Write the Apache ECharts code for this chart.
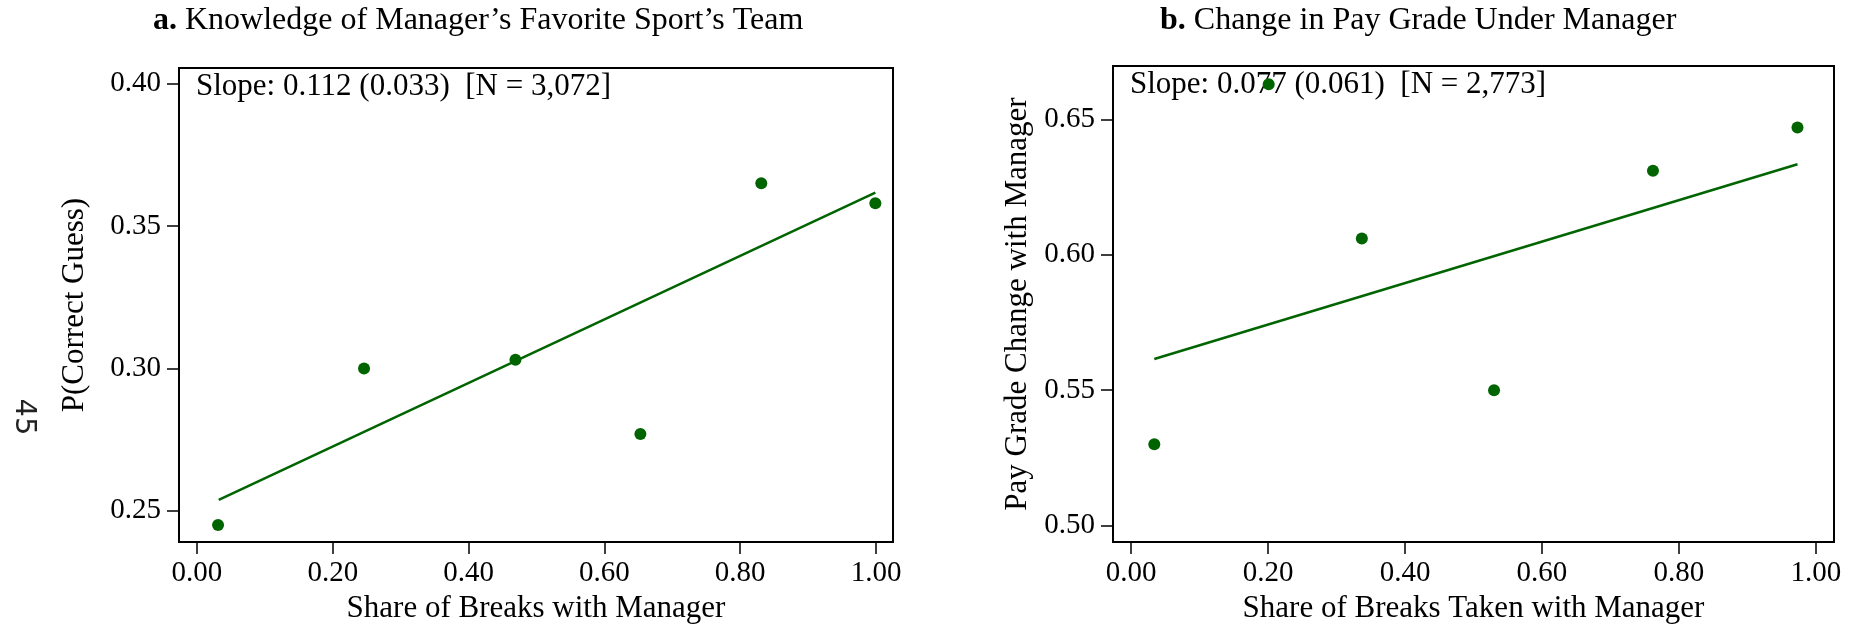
<!DOCTYPE html>
<html>
<head>
<meta charset="utf-8">
<script src="https://cdn.jsdelivr.net/npm/echarts@6/dist/echarts.min.js"></script>
<style>
html,body{margin:0;padding:0;background:#fff;}
#c{width:1858px;height:629px;}
</style>
</head>
<body>
<div id="c"></div>
<script>
// Panel a: Knowledge of Manager's Favorite Sport's Team
const shareA = [0.031, 0.246, 0.469, 0.653, 0.831, 0.999];
const correctA = [0.245, 0.300, 0.303, 0.277, 0.365, 0.358];
const fitXA = [0.032, 0.999];
const fitYA = [0.2538, 0.3617];
// Panel b: Change in Pay Grade Under Manager
const shareB = [0.034, 0.201, 0.337, 0.530, 0.762, 0.973];
const payB = [0.530, 0.663, 0.606, 0.550, 0.631, 0.647];
const fitXB = [0.034, 0.973];
const fitYB = [0.5615, 0.6334];
// tick labels
const xTicks = [0, 0.2, 0.4, 0.6, 0.8, 1.0];
const yTicksA = [0.25, 0.30, 0.35, 0.40];
const yTicksB = [0.50, 0.55, 0.60, 0.65];

const GREEN = '#006400';
const SERIF = 'Liberation Serif';

function xAxis(gi, min, max, name, gap) {
  return {
    type: 'value', gridIndex: gi, min: min, max: max,
    name: name, nameLocation: 'middle', nameGap: gap,
    nameTextStyle: {fontFamily: SERIF, fontSize: 31, color: '#000'},
    axisLine: {show: false, onZero: false},
    axisTick: {show: true, length: 12, inside: false, customValues: xTicks, lineStyle: {color: '#000', width: 1.5}},
    axisLabel: {show: true, customValues: xTicks, margin: 17, fontFamily: SERIF, fontSize: 29, color: '#000',
      formatter: v => v.toFixed(2)},
    splitLine: {show: false}
  };
}
function yAxis(gi, min, max, ticks, name, gap) {
  return {
    type: 'value', gridIndex: gi, min: min, max: max,
    name: name, nameLocation: 'middle', nameGap: gap, nameRotate: 90,
    nameTextStyle: {fontFamily: SERIF, fontSize: 31, color: '#000'},
    axisLine: {show: false, onZero: false},
    axisTick: {show: true, length: 12, inside: false, customValues: ticks, lineStyle: {color: '#000', width: 1.5}},
    axisLabel: {show: true, customValues: ticks, margin: 18, fontFamily: SERIF, fontSize: 29, color: '#000',
      formatter: v => v.toFixed(2)},
    splitLine: {show: false}
  };
}

const chart = echarts.init(document.getElementById('c'), null, {renderer: 'canvas'});
chart.setOption({
  animation: false,
  backgroundColor: '#fff',
  textStyle: {fontFamily: SERIF},
  grid: [
    {left: 179, top: 68, width: 714, height: 483, show: true, borderColor: '#000', borderWidth: 2, containLabel: false},
    {left: 1113, top: 66, width: 721, height: 486, show: true, borderColor: '#000', borderWidth: 2, containLabel: false}
  ],
  xAxis: [
    xAxis(0, -0.0265, 1.025, 'Share of Breaks with Manager', 48),
    xAxis(1, -0.0263, 1.0263, 'Share of Breaks Taken with Manager', 48)
  ],
  yAxis: [
    yAxis(0, 0.2390, 0.4055, yTicksA, 'P(Correct Guess)', 89),
    yAxis(1, 0.4939, 0.6697, yTicksB, 'Pay Grade Change with Manager', 80)
  ],
  series: [
    {type: 'line', xAxisIndex: 0, yAxisIndex: 0, data: fitXA.map((x, i) => [x, fitYA[i]]),
      symbol: 'none', lineStyle: {color: GREEN, width: 2.5}, z: 2},
    {type: 'scatter', xAxisIndex: 0, yAxisIndex: 0, data: shareA.map((x, i) => [x, correctA[i]]),
      symbol: 'circle', symbolSize: 12, itemStyle: {color: GREEN, opacity: 1}, z: 3},
    {type: 'line', xAxisIndex: 1, yAxisIndex: 1, data: fitXB.map((x, i) => [x, fitYB[i]]),
      symbol: 'none', lineStyle: {color: GREEN, width: 2.5}, z: 2},
    {type: 'scatter', xAxisIndex: 1, yAxisIndex: 1, data: shareB.map((x, i) => [x, payB[i]]),
      symbol: 'circle', symbolSize: 12, itemStyle: {color: GREEN, opacity: 1}, z: 3}
  ],
  graphic: [
    {type: 'text', left: 153, top: 5, z: 10,
      style: {text: '{b|a.} Knowledge of Manager\u2019s Favorite Sport\u2019s Team', font: '32px Liberation Serif', fill: '#000',
        rich: {b: {fontWeight: 'bold', fontFamily: SERIF, fontSize: 32}}}},
    {type: 'text', left: 1160, top: 5, z: 10,
      style: {text: '{b|b.} Change in Pay Grade Under Manager', font: '32px Liberation Serif', fill: '#000',
        rich: {b: {fontWeight: 'bold', fontFamily: SERIF, fontSize: 32}}}},
    {type: 'text', x: 196, y: 87, z: 10,
      style: {text: 'Slope: 0.112 (0.033)  [N = 3,072]', font: '31px Liberation Serif', fill: '#000', verticalAlign: 'middle', align: 'left'}},
    {type: 'text', x: 1130, y: 85, z: 1,
      style: {text: 'Slope: 0.077 (0.061)  [N = 2,773]', font: '31px Liberation Serif', fill: '#000', verticalAlign: 'middle', align: 'left'}},
    {type: 'text', x: 23.5, y: 417, rotation: -Math.PI / 2, z: 10,
      style: {text: '45', font: '29px DejaVu Sans', fill: '#222', align: 'center', verticalAlign: 'middle'}}
  ]
});
</script>
</body>
</html>
